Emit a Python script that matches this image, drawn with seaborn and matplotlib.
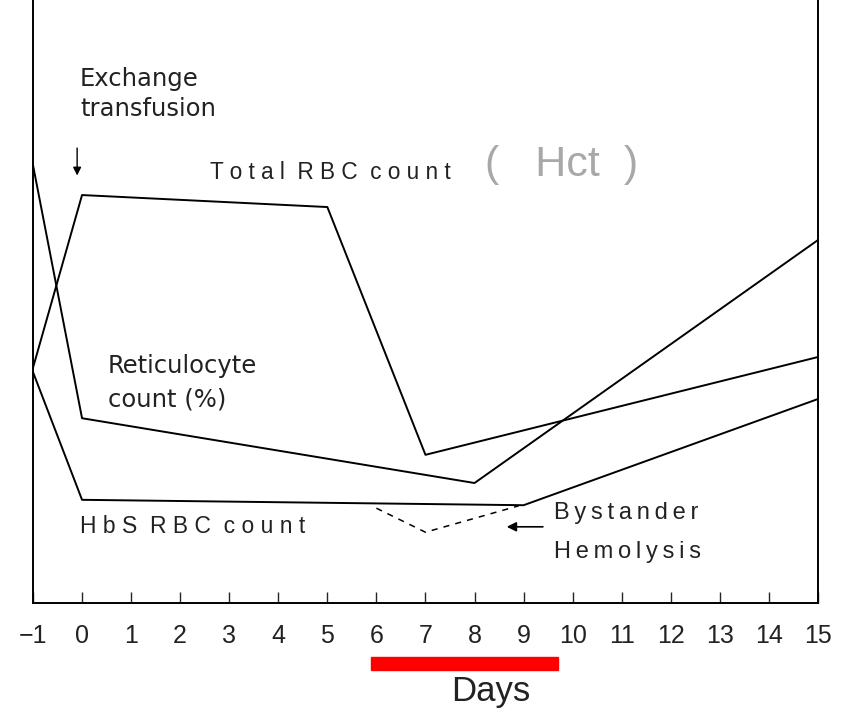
import matplotlib
matplotlib.use("Agg")
import matplotlib.pyplot as plt
from matplotlib.patches import Rectangle
import pandas as pd
import seaborn as sns

# values (arbitrary units, 0 = x axis)
total_rbc_days = [-1, 0, 5, 7, 15]
total_rbc = [39.2, 68.0, 66.0, 24.7, 41.0]

retic_days = [-1, 0, 8, 15]
retic = [73.0, 30.8, 20.0, 60.5]

hbs_days = [-1, 0, 9, 15]
hbs = [38.5, 17.2, 16.3, 34.0]

bystander_days = [6, 7, 8.9]
bystander = [15.8, 11.8, 16.2]

day_ticks = list(range(-1, 16))
day_labels = ['\u22121'] + [str(d) for d in range(0, 16)]
highlight_days = (5.88, 9.71)

sns.set_style("white")
plt.rcParams['font.family'] = ['Liberation Sans', 'DejaVu Sans']

fig = plt.figure(figsize=(8.5, 7.11), dpi=100)
ax = fig.add_axes([0.0388, 0.1519, 0.9235, 0.848])

for days, vals in [(total_rbc_days, total_rbc), (retic_days, retic), (hbs_days, hbs)]:
    df = pd.DataFrame({'day': days, 'value': vals})
    sns.lineplot(data=df, x='day', y='value', ax=ax, color='black', lw=1.4)

df_b = pd.DataFrame({'day': bystander_days, 'value': bystander})
sns.lineplot(data=df_b, x='day', y='value', ax=ax, color='black', lw=1.1,
             linestyle=(0, (4, 4)))

ax.set_xlim(-1, 15)
ax.set_ylim(0, 100.5)
ax.set_xticks(day_ticks)
ax.set_xticklabels(day_labels, fontsize=18, color='#222222')
ax.set_yticks([])
ax.tick_params(axis='x', direction='in', length=8, width=1, pad=15, bottom=True)
ax.set_xlabel('Days', fontsize=25, color='#222222')
ax.xaxis.set_label_coords(0.5834, -0.12)
ax.set_ylabel('')
ax.spines['top'].set_visible(False)
for s in ['left', 'right', 'bottom']:
    ax.spines[s].set_color('black')
    ax.spines[s].set_linewidth(1.4)

# text annotations
ink = '#222222'
ax.text(-0.04, 84.8, 'Exchange\ntransfusion', ha='left', va='center', linespacing=1.3,
        fontsize=17.5, family='DejaVu Sans', color=ink)
ax.annotate('', xy=(-0.1, 70.8), xytext=(-0.1, 76.3),
            arrowprops=dict(arrowstyle='-|>', color='black', lw=1, mutation_scale=12))
ax.text(2.61, 71.8, 'T o t a l  R B C  c o u n t', ha='left', va='center',
        fontsize=16.3, color=ink)
ax.text(8.22, 73.0, '(   Hct  )', ha='left', va='center', fontsize=31,
        color='#a8a8a8', fontweight='light')
ax.text(0.53, 36.75, 'Reticulocyte\ncount (%)', ha='left', va='center', linespacing=1.5,
        fontsize=17.5, family='DejaVu Sans', color=ink)
ax.text(-0.04, 12.7, 'H b S  R B C  c o u n t', ha='left', va='center', fontsize=16.5,
        color=ink)
thin = '\u2009'
ax.text(9.62, 11.75, thin.join('Bystander') + '\n' + thin.join('Hemolysis'),
        ha='left', va='center', fontsize=17, linespacing=1.95, color=ink)
ax.annotate('', xy=(8.6, 12.7), xytext=(9.45, 12.7),
            arrowprops=dict(arrowstyle='-|>', color='black', lw=1.2, mutation_scale=14))

# red bar under days 6-9
ax.add_patch(Rectangle((highlight_days[0], -0.111), highlight_days[1] - highlight_days[0], 0.021,
                       transform=ax.get_xaxis_transform(), color='red', clip_on=False))

fig.savefig('out.png', dpi=100)
